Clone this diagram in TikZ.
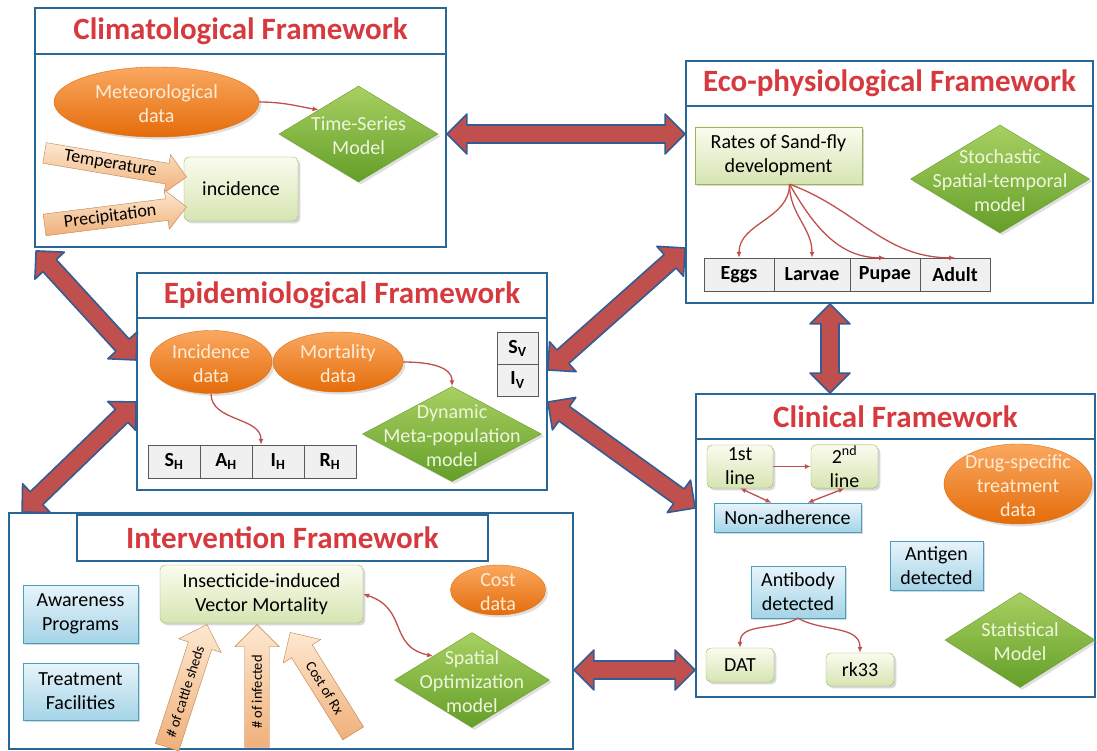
\documentclass[tikz,border=0pt]{standalone}
\usepackage{fontspec}
\setmainfont{Carlito}
\usetikzlibrary{arrows.meta,calc,positioning,shadows,shapes.arrows,shapes.geometric}
\definecolor{frameblue}{RGB}{41,104,150}
\definecolor{ttl}{RGB}{214,58,62}
\definecolor{fat}{RGB}{192,80,77}
\definecolor{fatline}{RGB}{52,92,148}
\definecolor{orangetop}{RGB}{250,168,96}
\definecolor{orangebot}{RGB}{228,108,10}
\definecolor{greentop}{RGB}{168,208,98}
\definecolor{greenbot}{RGB}{100,158,40}
\definecolor{paletop}{RGB}{250,252,238}
\definecolor{palebot}{RGB}{214,228,178}
\definecolor{paleline}{RGB}{150,182,90}
\definecolor{bluetop}{RGB}{232,244,250}
\definecolor{bluebot}{RGB}{165,212,232}
\definecolor{blueline}{RGB}{70,160,190}
\definecolor{peachtop}{RGB}{253,232,208}
\definecolor{peachbot}{RGB}{240,176,122}
\definecolor{peachline}{RGB}{190,130,80}
\definecolor{cellfill}{RGB}{240,240,240}
\definecolor{softtext}{RGB}{255,236,215}
\definecolor{softgreen}{RGB}{238,246,222}
\newcommand\boxfont{\fontsize{20}{24}\selectfont}
\newcommand\arrfont{\fontsize{18}{20}\selectfont}
\newcommand\upfont{\fontsize{14.5}{16}\selectfont}
\newcommand\squeeze[1]{\makebox[0pt]{\smash{\raisebox{-.42em}{\begin{tabular}{@{}c@{}}#1\end{tabular}}}}}
\newcommand\vsub[2]{#1\textsubscript{#2}}
\newcommand\fatlink[2]{\path[fatarrow] let \p1=($(#2)-(#1)$), \n1={atan2(\y1,\x1)}, \n2={veclen(\x1,\y1)} in
  [shift={(#1)},rotate=\n1] (0pt,0pt) -- (20pt,20pt) -- (20pt,9pt) -- ({\n2*1pt-20pt},9pt) -- ({\n2*1pt-20pt},20pt) -- ({\n2*1pt},0pt)
  -- ({\n2*1pt-20pt},-20pt) -- ({\n2*1pt-20pt},-9pt) -- (20pt,-9pt) -- (20pt,-20pt) -- cycle;}

\begin{document}
\begin{tikzpicture}[x=1pt,y=-1pt,
  frame/.style={draw=frameblue,line width=1.8pt,fill=white,inner sep=0pt},
  band/.style={frame,text=ttl,font=\fontsize{31}{33}\selectfont\bfseries},
  oval/.style={ellipse,draw=orangebot,top color=orangetop,bottom color=orangebot,text=softtext,inner sep=0pt,font=\boxfont,drop shadow={opacity=.25}},
  gem/.style={diamond,draw=greenbot,top color=greentop,bottom color=greenbot,text=softgreen,inner sep=0pt,font=\boxfont,drop shadow={opacity=.25}},
  pale/.style={draw=paleline,top color=paletop,bottom color=palebot,rounded corners=5pt,align=center,inner sep=1pt,font=\boxfont,drop shadow={opacity=.3}},
  sky/.style={draw=blueline,top color=bluetop,bottom color=bluebot,align=center,inner sep=1pt,font=\boxfont,drop shadow={opacity=.3}},
  cell/.style={draw=black!65,fill=cellfill,minimum height=33,inner sep=0pt,font=\boxfont\bfseries},
  inarr/.style={single arrow,draw=peachline,top color=peachtop,bottom color=peachbot,single arrow head extend=9pt,single arrow tip angle=90,inner xsep=3pt,inner ysep=3pt,anchor=tip,font=\arrfont},
  uparr/.style={inarr,inner ysep=7pt,single arrow head extend=10pt,font=\upfont},
  lnk/.style={draw=fat,line width=1.3pt,-{Latex[length=6pt,width=5pt]}},
  lnk2/.style={lnk,{Latex[length=6pt,width=5pt]}-{Latex[length=6pt,width=5pt]}},
  fatarrow/.style={fill=fat,draw=fatline,line width=1.6pt,line join=round}]
\fill[white] (0,0) rectangle (1097,751);
\useasboundingbox (0,0) rectangle (1097,751);

\node[frame,minimum width=411,minimum height=239] (clim) at (240.5,127.5) {};
\node[band,minimum width=411,minimum height=46,anchor=north] (climt) at (clim.north) {Climatological Framework};
\node[oval,minimum width=205,minimum height=70] (met) at (156.5,102) {\squeeze{Meteorological\\data}};
\node[gem,minimum width=159,minimum height=96] (ts) at (358.5,134) {\squeeze{Time-Series\\Model}};
\node[pale,minimum width=114,minimum height=64] (inc) at (241,189) {incidence};
\node[inarr,rotate=-9.6,minimum height=144] (temp) at ($(inc.west)+(3,-12)$) {Temperature};
\node[inarr,rotate=7.2,minimum height=143] (prec) at ($(inc.west)+(3,18)$) {Precipitation};
\draw[lnk] (met.east) to[out=0,in=170] (ts.north west);

\node[frame,minimum width=407,minimum height=242] (eco) at (889.5,182) {};
\node[band,minimum width=407,minimum height=45,anchor=north] (ecot) at (eco.north) {Eco-physiological Framework};
\node[pale,rounded corners=0pt,minimum width=167,minimum height=57] (rates) at (778.5,155.5) {Rates of Sand-fly\\development};
\node[gem,minimum width=179,minimum height=108] (stoch) at (1000,179) {\squeeze{Stochastic\\Spatial-temporal\\model}};
\foreach \n/\t/\x/\w in {eggs/Eggs/739/70,larvae/Larvae/812/76,pupae/Pupae/885/70,adult/Adult/955/70}
  \node[cell,minimum width=\w] (\n) at (\x,274.5) {\t};
\coordinate (fork) at ($(rates.south)+(11,0)$);
\foreach \c/\o/\i in {eggs/-90/90,larvae/-90/90,pupae/-60/180,adult/-20/180}
  \draw[lnk] (fork) to[out=\o,in=\i] (\c.north);

\node[frame,minimum width=410,minimum height=217] (epid) at (342,381.5) {};
\node[band,minimum width=410,minimum height=45,anchor=north] (epidt) at (epid.north) {Epidemiological Framework};
\node[oval,minimum width=122,minimum height=63] (incd) at (211,362) {\squeeze{Incidence\\data}};
\node[oval,minimum width=130,minimum height=60] (mort) at (338,362) {\squeeze{Mortality\\data}};
\foreach \n/\t/\x in {sh/S/174,ah/A/226,ih/I/278,rh/R/330}
  \node[cell,minimum width=52] (\n) at (\x,461.5) {\vsub{\t}{H}};
\node[cell,minimum width=41,minimum height=32] (sv) at (517.5,348) {\vsub{S}{V}};
\node[cell,minimum width=41,minimum height=32] (iv) at (517.5,380) {\vsub{I}{V}};
\node[gem,minimum width=179,minimum height=95] (dyn) at (452,434) {\squeeze{Dynamic\\Meta-population\\model}};
\draw[lnk] (incd.south) to[out=-90,in=90] ($(ih.north)+(-17,0)$);
\draw[lnk] (mort.east) to[out=0,in=90] (dyn.north);

\node[frame,minimum width=399,minimum height=303] (clin) at (895.5,545.5) {};
\node[band,minimum width=399,minimum height=45,anchor=north] (clint) at (clin.north) {Clinical Framework};
\node[pale,minimum width=66,minimum height=43] (first) at (740,466.5) {1st\\line};
\node[pale,minimum width=67,minimum height=43] (second) at (844.5,466.5) {2\textsuperscript{nd}\\line};
\node[sky,minimum width=147,minimum height=29] (nonadh) at (787.5,517.5) {Non-adherence};
\node[oval,minimum width=148,minimum height=80] (drug) at (1018,484) {\squeeze{Drug-specific\\treatment\\data}};
\node[sky,minimum width=93,minimum height=49] (antigen) at (936.5,565.5) {Antigen\\detected};
\node[sky,minimum width=94,minimum height=52] (antibody) at (798,592) {Antibody\\detected};
\node[pale,minimum width=68,minimum height=34] (dat) at (740,665) {DAT};
\node[pale,minimum width=68,minimum height=33] (rk) at (860,669.5) {rk33};
\node[gem,minimum width=150,minimum height=95] (stat) at (1020,640) {\squeeze{Statistical\\Model}};
\draw[lnk] (first) -- (second);
\draw[lnk2] (first.south) -- ($(nonadh.north)+(-16,0)$);
\draw[lnk2] (second.south) -- ($(nonadh.north)+(20,0)$);
\draw[lnk] (antibody.south) to[out=-150,in=90] (dat.north);
\draw[lnk] (antibody.south) to[out=-30,in=90] (rk.north);

\node[frame,minimum width=564,minimum height=236] (interv) at (291,631) {};
\node[band,minimum width=411,minimum height=46] (intervt) at (282.5,538) {Intervention Framework};
\node[sky,minimum width=115,minimum height=58] (aware) at (80.5,614) {Awareness\\Programs};
\node[sky,minimum width=115,minimum height=57] (treat) at (80.5,691.5) {Treatment\\Facilities};
\node[pale,minimum width=203,minimum height=58] (ins) at (261.5,594) {Insecticide-induced\\Vector Mortality};
\node[oval,minimum width=95,minimum height=50] (cost) at (498,590) {\squeeze{Cost\\data}};
\node[gem,minimum width=155,minimum height=95] (spat) at (472,680) {\squeeze{Spatial\\Optimization\\model}};
\node[uparr,rotate=72,minimum height=129] (sheds) at ($(ins.south)+(-54.5,1)$) {\# of cattle sheds};
\node[uparr,rotate=90,minimum height=123] (infected) at ($(ins.south)+(-4.5,1)$) {\# of infected};
\node[uparr,rotate=-58,shape border rotate=180,minimum height=119] (rx) at ($(ins.south)+(28.5,9)$) {Cost of Rx};
\draw[lnk2] (ins.east) .. controls +(45,15) and +(-45,-10) .. (spat.north west);

\coordinate (clim-r) at (clim.east |- 0,134); \coordinate (eco-l) at (eco.west |- 0,134);
\coordinate (clim-b) at ($(clim.south west)+(2,3)$); \coordinate (epid-l1) at (epid.west |- 0,360);
\coordinate (epid-l2) at (epid.west |- 0,402); \coordinate (int-t) at ($(interv.north west)+(14,0)$);
\coordinate (eco-l2) at (eco.west |- 0,248); \coordinate (epid-r1) at (epid.east |- 0,370);
\coordinate (eco-b) at (eco.south -| 830,0); \coordinate (clin-t) at (clin.north -| 830,0);
\coordinate (epid-r2) at (epid.east |- 0,402); \coordinate (clin-l1) at (clin.west |- 0,508);
\coordinate (int-r) at (interv.east |- 0,670); \coordinate (clin-l2) at (clin.west |- 0,670);
\fatlink{clim-r}{eco-l} \fatlink{clim-b}{epid-l1} \fatlink{epid-l2}{int-t} \fatlink{eco-l2}{epid-r1}
\fatlink{eco-b}{clin-t} \fatlink{epid-r2}{clin-l1} \fatlink{int-r}{clin-l2}
\end{tikzpicture}
\end{document}
